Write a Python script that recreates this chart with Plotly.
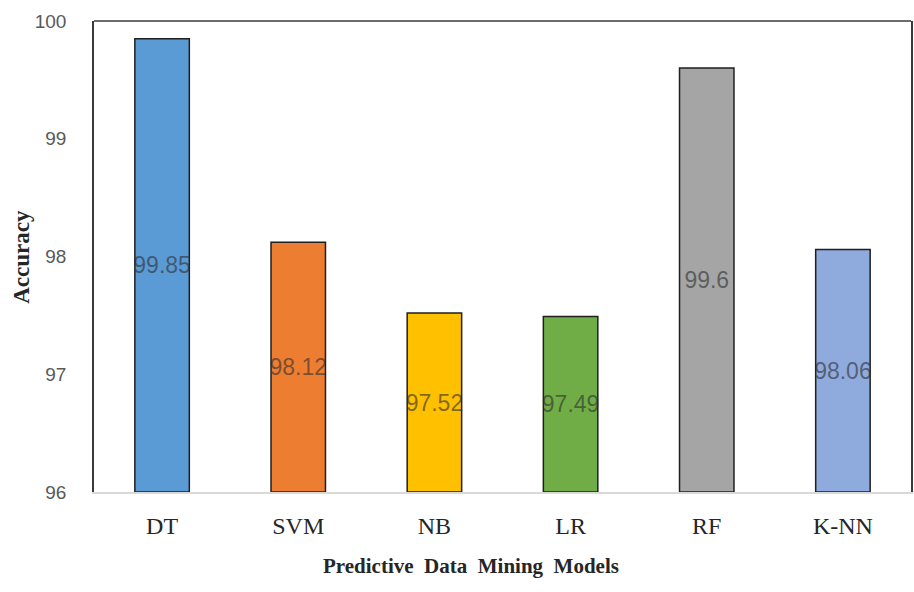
import plotly.graph_objects as go

# Classification accuracy of each predictive model
models = ["DT", "SVM", "NB", "LR", "RF", "K-NN"]
accuracy = [99.85, 98.12, 97.52, 97.49, 99.6, 98.06]
bar_colors = ["#5B9BD5", "#ED7D31", "#FFC000", "#70AD47", "#A5A5A5", "#8FAADC"]
y_ticks = [96, 97, 98, 99, 100]

axis_floor = 96
serif = "Liberation Serif, Times New Roman, serif"

fig = go.Figure()
fig.add_trace(go.Bar(
    x=models,
    y=[v - axis_floor for v in accuracy],
    base=axis_floor,
    width=0.4,
    marker=dict(color=bar_colors, line=dict(color="#1f1f1f", width=1.5)),
    text=[str(v) for v in accuracy],
    textposition="inside",
    insidetextanchor="middle",
    constraintext="none",
    textangle=0,
    insidetextfont=dict(family="Liberation Sans Narrow, Liberation Sans, Arial",
                        size=23, color="rgba(45,45,45,0.6)"),
    hoverinfo="skip",
))

fig.update_layout(
    width=914, height=592,
    margin=dict(l=94, r=1, t=21, b=100),
    paper_bgcolor="white",
    plot_bgcolor="white",
    showlegend=False,
    bargap=0.6,
    xaxis=dict(
        showline=True, linecolor="#d9d9d9", linewidth=1.5,
        showgrid=False, ticks="", ticklabelstandoff=11,
        tickfont=dict(family=serif, size=24, color="#262626"),
    ),
    yaxis=dict(
        range=[96, 100], tickvals=y_ticks,
        showline=True, linecolor="#3a3a3a", linewidth=1.5, mirror=True,
        showgrid=False, zeroline=False, ticks="", ticklabelstandoff=22,
        tickfont=dict(family="Liberation Sans, Arial, sans-serif",
                      size=19, color="#595959"),
    ),
    shapes=[dict(type="line", xref="paper", yref="paper", x0=0, x1=1, y0=1, y1=1,
                 line=dict(color="#3a3a3a", width=1.5))],
    annotations=[
        dict(text="<b>Predictive  Data  Mining  Models</b>",
             xref="paper", yref="paper", x=0.4615, y=-0.157,
             xanchor="center", yanchor="middle", showarrow=False,
             font=dict(family=serif, size=21, color="#262626")),
        dict(text="<b>Accuracy</b>", textangle=-90,
             xref="paper", yref="paper", x=-0.089, y=0.5,
             xanchor="center", yanchor="middle", showarrow=False,
             font=dict(family=serif, size=23, color="#262626")),
    ],
)

fig.write_html("out.html")
